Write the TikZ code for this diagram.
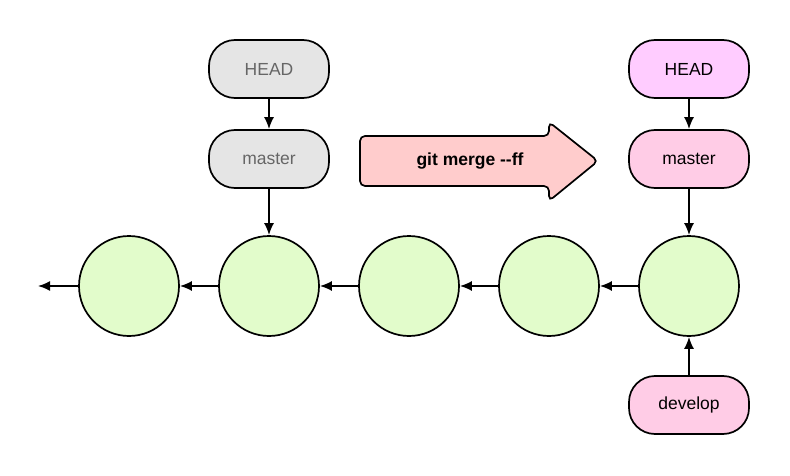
\documentclass[tikz,border=0pt]{standalone}
\usepackage{fontspec}
\setmainfont{Liberation Sans}
\usetikzlibrary{arrows.meta}
\definecolor{cgreen}{HTML}{E2FCCB}
\definecolor{cgray}{HTML}{E5E5E5}
\definecolor{cviolet}{HTML}{FFCCFF}
\definecolor{cpink}{HTML}{FFCCE6}
\definecolor{cred}{HTML}{FFCCCC}
\definecolor{tgray}{HTML}{666666}
\begin{document}
\begin{tikzpicture}[x=1pt,y=-1pt,
  commit/.style={circle,draw,line width=1.7pt,fill=cgreen,minimum size=100pt,inner sep=0pt},
  ref/.style={rounded corners=26pt,draw,line width=1.7pt,minimum width=120pt,minimum height=58pt,font=\fontsize{17.5}{20}\selectfont},
  link/.style={line width=1.7pt,-{Latex[length=12pt,width=10pt]}}]
\useasboundingbox (0,0) rectangle (790,476);
\node[commit] (c1) at (129,286) {};
\node[commit] (c2) at (269,286) {};
\node[commit] (c3) at (409,286) {};
\node[commit] (c4) at (549,286) {};
\node[commit] (c5) at (689,286) {};
\coordinate (end) at (38,286);
\node[ref,fill=cgray,text=tgray] (h1) at (269,69) {HEAD};
\node[ref,fill=cgray,text=tgray] (m1) at (269,159) {master};
\node[ref,fill=cviolet] (h2) at (689,69) {HEAD};
\node[ref,fill=cpink] (m2) at (689,159) {master};
\node[ref,fill=cpink] (d2) at (689,405) {develop};
\draw[link] (c1) -- (end);
\draw[link] (c2) -- (c1);
\draw[link] (c3) -- (c2);
\draw[link] (c4) -- (c3);
\draw[link] (c5) -- (c4);
\draw[link] (h1) -- (m1);
\draw[link] (m1) -- (c2);
\draw[link] (h2) -- (m2);
\draw[link] (m2) -- (c5);
\draw[link] (d2) -- (c5);
\draw[line width=1.7pt,fill=cred,rounded corners=5pt] (360,136) -- (549,136) -- (549,122) -- (598,161) -- (549,201) -- (549,186) -- (360,186) -- cycle;
\node[font=\bfseries\fontsize{17.5}{20}\selectfont] (cmd) at (470,161) {git merge -{}-ff};
\end{tikzpicture}
\end{document}
